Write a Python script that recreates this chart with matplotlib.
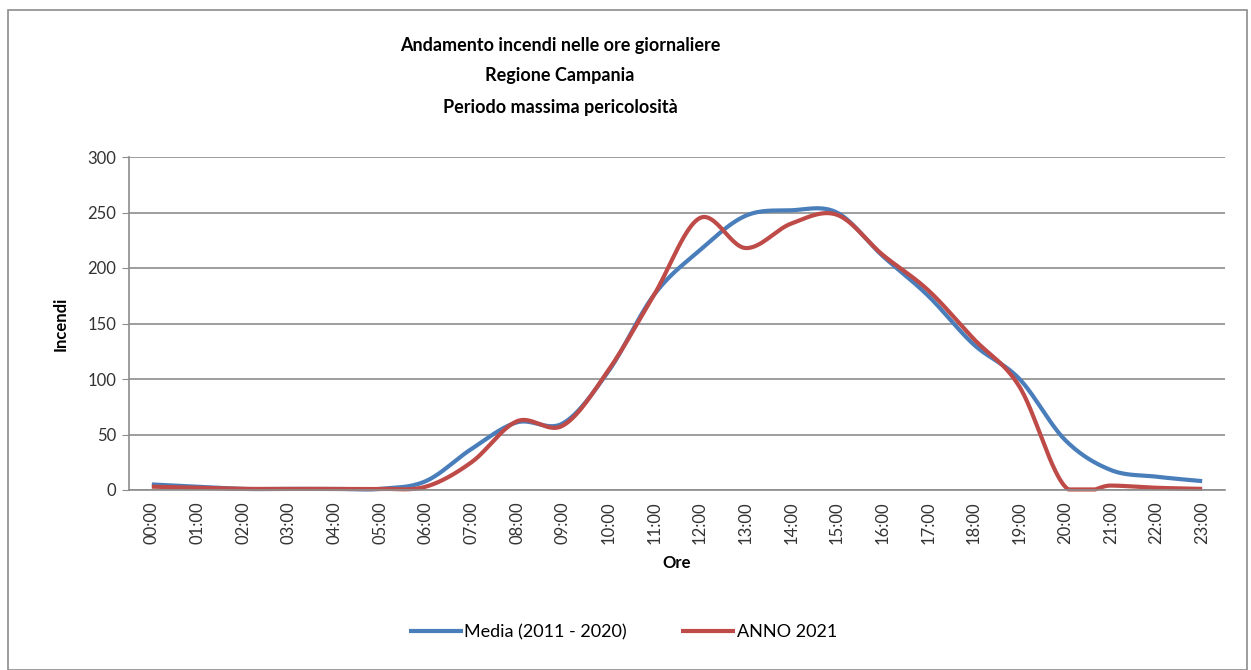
import matplotlib.pyplot as plt
import numpy as np
from matplotlib.patches import Rectangle

plt.rcParams['font.family'] = ['Lato', 'DejaVu Sans']

ore = ["%02d:00" % h for h in range(24)]
media = [5, 3, 1, 1, 1, 1, 8, 37, 61, 60, 107, 176, 216, 247, 252, 250,
         211, 175, 131, 100, 45, 18, 12, 8]
anno_2021 = [3, 2, 1, 1, 1, 1, 3, 25, 62, 58, 108, 176, 245, 218, 240, 248,
             212, 180, 136, 93, 3, 4, 2, 1]


def smooth(y, n=30):
    # Bezier smoothing similar to the spreadsheet "smoothed line"
    y = np.asarray(y, dtype=float)
    x = np.arange(len(y), dtype=float)
    xs, ys = [], []
    for i in range(len(y) - 1):
        p0 = max(i - 1, 0)
        p3 = min(i + 2, len(y) - 1)
        c1x = x[i] + (x[i + 1] - x[p0]) / 6
        c1y = y[i] + (y[i + 1] - y[p0]) / 6
        c2x = x[i + 1] - (x[p3] - x[i]) / 6
        c2y = y[i + 1] - (y[p3] - y[i]) / 6
        t = np.linspace(0, 1, n)
        bx = (1-t)**3*x[i] + 3*(1-t)**2*t*c1x + 3*(1-t)*t**2*c2x + t**3*x[i+1]
        by = (1-t)**3*y[i] + 3*(1-t)**2*t*c1y + 3*(1-t)*t**2*c2y + t**3*y[i+1]
        xs.extend(bx)
        ys.extend(by)
    # keep the curve from dipping under the axis
    return np.array(xs), np.clip(ys, 0.5, None)


fig = plt.figure(figsize=(12.51, 6.70), dpi=100)
fig.patches.append(Rectangle((8/1251, 0), 1239/1251, 660/670, transform=fig.transFigure,
                             fill=False, edgecolor='#8c8c8c', linewidth=1.2))

ax = fig.add_axes([129/1251, 180/670, 1096/1251, 333/670])

mx, my = smooth(media)
rx, ry = smooth(anno_2021)
ax.plot(mx, my, color='#4a7ebb', linewidth=3, label='Media (2011 - 2020)',
        solid_capstyle='butt', clip_on=False)
ax.plot(rx, ry, color='#be4b48', linewidth=3, label='ANNO 2021',
        solid_capstyle='butt', clip_on=False)

ax.set_xlim(-0.5, 23.5)
ax.set_ylim(0, 300)
ax.set_yticks(range(0, 301, 50))
ax.set_xticks(range(24))
ax.set_xticklabels(ore, rotation=90, fontsize=12, color='#333333')
ax.tick_params(axis='x', length=0, pad=8)
ax.tick_params(axis='y', length=5, color='#8c8c8c', labelsize=12, labelcolor='#333333', pad=4)
ax.grid(axis='y', color='#8c8c8c', linewidth=1.2)
ax.set_axisbelow(True)
for s in ['top', 'right']:
    ax.spines[s].set_visible(False)
for s in ['left', 'bottom']:
    ax.spines[s].set_color('#8c8c8c')
    ax.spines[s].set_linewidth(1.2)

ax.set_xlabel('Ore', fontsize=12, fontweight='bold', labelpad=8)
ax.set_ylabel('Incendi', fontsize=12, fontweight='bold', labelpad=14)

tx = 560 / 1251
fig.text(tx, 1 - 45/670, 'Andamento incendi nelle ore giornaliere', ha='center', va='center',
         fontsize=13, fontweight='bold')
fig.text(tx, 1 - 76/670, 'Regione Campania', ha='center', va='center',
         fontsize=13, fontweight='bold')
fig.text(tx, 1 - 107/670, 'Periodo massima pericolosità', ha='center', va='center',
         fontsize=13, fontweight='bold')

fig.legend(loc='center', bbox_to_anchor=(0.498, 1 - 632/670), ncol=2, frameon=False,
           fontsize=13, handlelength=3, handletextpad=0.1, columnspacing=3)

fig.savefig('out.png', dpi=100)
